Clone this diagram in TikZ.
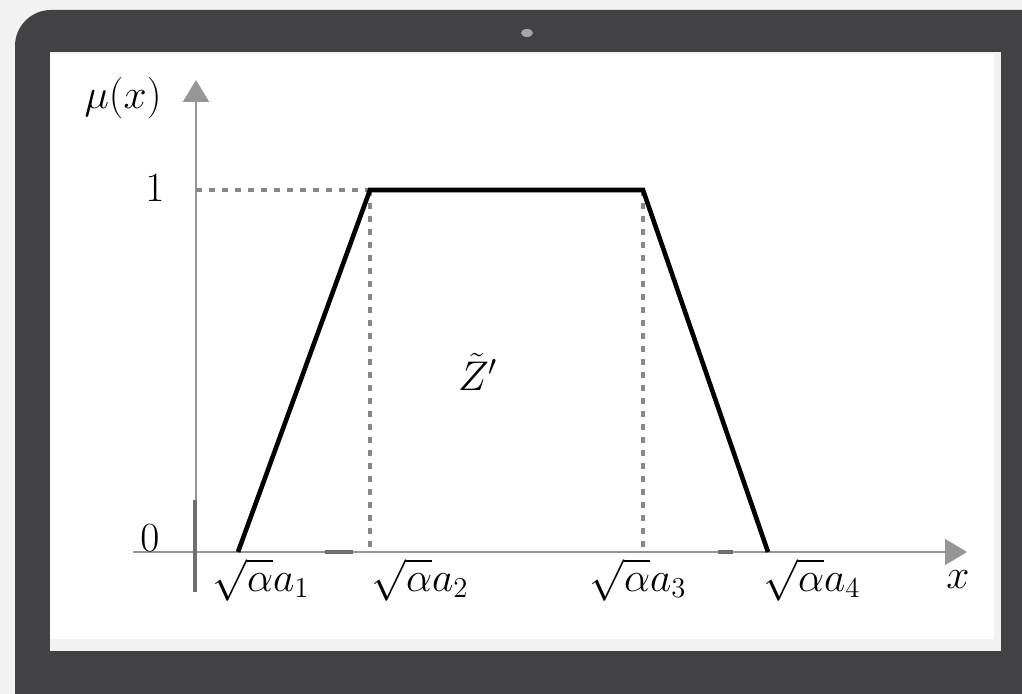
\documentclass[tikz,border=0pt]{standalone}
\usepackage{amsmath}
\usetikzlibrary{arrows.meta}
\definecolor{frameGray}{RGB}{66,66,68}
\definecolor{pageGray}{RGB}{242,242,242}
\definecolor{axisGray}{RGB}{150,150,150}
\definecolor{dotGray}{RGB}{135,135,135}
\definecolor{tickGray}{RGB}{110,110,110}
\tikzset{
  axisline/.style={draw=axisGray,line width=1.1pt,-{Triangle[length=11pt,width=13pt]}},
  guideline/.style={draw=dotGray,line width=2.4pt,dash pattern=on 3pt off 3.5pt},
  trapline/.style={line width=2.3pt,line join=miter},
  tickline/.style={draw=tickGray,line width=1.6pt},
  lbl/.style={inner sep=0pt,font=\fontsize{21}{25}\selectfont},
}
\begin{document}
\begin{tikzpicture}[x=0.5pt,y=-0.5pt]
\useasboundingbox (0,0) rectangle (1022,694);
\clip (0,0) rectangle (1022,694);
\fill[pageGray] (0,0) rectangle (1022,694);
% tablet frame and screen
\fill[frameGray,rounded corners=18pt] (15,10) rectangle (1060,740);
\fill[pageGray] (50,52) rectangle (1001,651);
\fill[white] (50,54) rectangle (994,639);
\fill[gray!70] (527,33) ellipse (6 and 4);
% axes
\coordinate (origin) at (196,552);
\coordinate (xStart) at (133,552);
\coordinate (xEnd) at (967,552);
\coordinate (yEnd) at (196,80);
\draw[axisline] (xStart) -- (xEnd);
\draw[axisline] (origin) -- (yEnd);
\draw[tickline] (195,500) -- (195,592);
\draw[tickline] (325,552) -- (353,552);
\draw[tickline] (718,552) -- (733,552);
% trapezoid
\coordinate (A1) at (238,552);
\coordinate (A2) at (370,190);
\coordinate (A3) at (643,190);
\coordinate (A4) at (768,552);
\draw[guideline] (origin |- A2) -- (A2);
\draw[guideline] (A2) -- (A2 |- origin);
\draw[guideline] (A3) -- (A3 |- origin);
\draw[trapline] (A1) -- (A2) -- (A3) -- (A4);
% labels
\node[lbl] (muLabel) at (123,98) {$\mu(x)$};
\node[lbl] (oneLabel) at (155,188) {$1$};
\node[lbl] (zeroLabel) at (150,538) {$0$};
\node[lbl] (aOne) at (261,580) {$\sqrt{\alpha}a_1$};
\node[lbl] (aTwo) at (420,580) {$\sqrt{\alpha}a_2$};
\node[lbl] (aThree) at (638,580) {$\sqrt{\alpha}a_3$};
\node[lbl] (aFour) at (812,580) {$\sqrt{\alpha}a_4$};
\node[lbl] (xLabel) at (958,580) {$x$};
\node[lbl] (zLabel) at (478,372) {$\tilde{Z}'$};
\end{tikzpicture}
\end{document}
